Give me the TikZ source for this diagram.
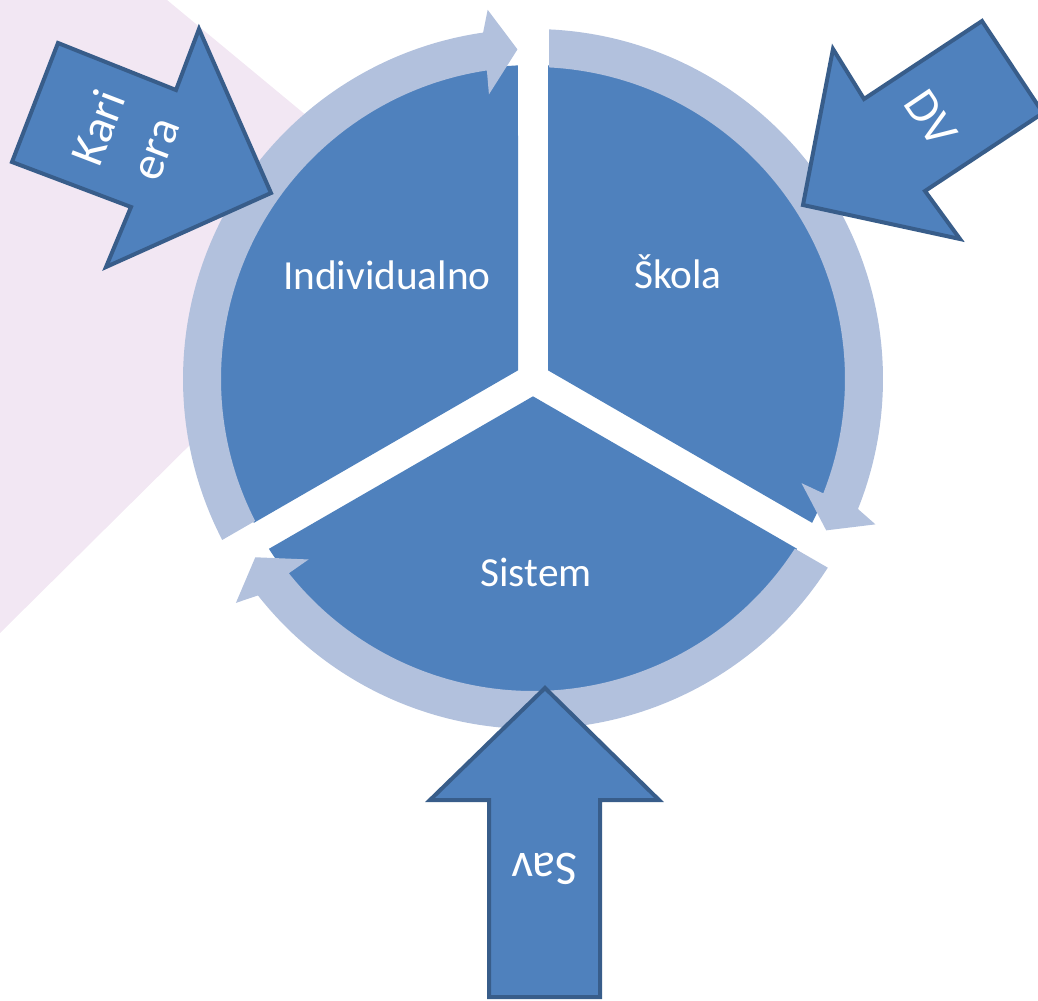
\documentclass[tikz,border=0pt]{standalone}
\usepackage{fontspec}
\setmainfont{Carlito}

\tikzset{every picture/.style={line width=0.75pt}}
\tikzset{
  bgfill/.style={draw=none, fill={rgb, 255:red, 242; green, 231; blue, 243}},
  piefill/.style={draw=none, fill={rgb, 255:red, 79; green, 129; blue, 189}},
  ringfill/.style={draw=none, fill={rgb, 255:red, 178; green, 193; blue, 221}},
  blockarrow/.style={draw={rgb, 255:red, 56; green, 93; blue, 138}, line width=3pt, line join=miter,
    fill={rgb, 255:red, 79; green, 129; blue, 189}},
  sectortext/.style={text=white, inner sep=0.75pt, font=\fontsize{31}{37}\selectfont},
  arrowtext/.style={text=white, inner sep=0.75pt, align=center, font=\fontsize{36}{45}\selectfont}
}

\begin{document}
\begin{tikzpicture}[x=0.75pt,y=0.75pt,yscale=-1,xscale=1]
\useasboundingbox (0,0) rectangle (1038,1000);
\clip (0,0) rectangle (1038,1000);

%Shape: Triangle [background]
\fill [bgfill] (0,0) -- (167,0) -- (424,213) -- (0,633) -- cycle;

%Shape: Pie Sector [Skola]
\fill [piefill, shift={(533,379)}, rotate=0] (-30:17.32) -- (-87.26:314) arc [start angle=-87.26, end angle=27.26, radius=314] -- cycle;
%Shape: Pie Sector [Sistem]
\fill [piefill, shift={(533,379)}, rotate=120] (-30:17.32) -- (-87.26:314) arc [start angle=-87.26, end angle=27.26, radius=314] -- cycle;
%Shape: Pie Sector [Individualno]
\fill [piefill, shift={(533,379)}, rotate=240] (-30:17.32) -- (-87.26:314) arc [start angle=-87.26, end angle=27.26, radius=314] -- cycle;

%Shape: Circular Arrow [right]
\fill [ringfill, shift={(533,379)}, rotate=0] (-87.38:350) arc [start angle=-87.38, end angle=21.8, radius=350] -- (23:372) -- (27.3:330) -- (21.2:288) -- (21.5:312) arc [start angle=21.5, end angle=-87.06, radius=312] -- cycle;
%Shape: Circular Arrow [bottom]
\fill [ringfill, shift={(533,379)}, rotate=120] (-87.38:350) arc [start angle=-87.38, end angle=21.8, radius=350] -- (23:372) -- (27.3:330) -- (21.2:288) -- (21.5:312) arc [start angle=21.5, end angle=-87.06, radius=312] -- cycle;
%Shape: Circular Arrow [left]
\fill [ringfill, shift={(533,379)}, rotate=240] (-87.38:350) arc [start angle=-87.38, end angle=21.8, radius=350] -- (23:372) -- (27.3:330) -- (21.2:288) -- (21.5:312) arc [start angle=21.5, end angle=-87.06, radius=312] -- cycle;

%Shape: Right Arrow [Karijera]
\draw [blockarrow] (58,43) -- (176,90) -- (199,29) -- (271,193) -- (106,267) -- (131,207) -- (12,162) -- cycle;
%Shape: Right Arrow [DV]
\draw [blockarrow] (982,21) -- (864,99) -- (833,49) -- (803,205) -- (960,239) -- (925,191) -- (1043,113) -- cycle;
%Shape: Right Arrow [Sav]
\draw [blockarrow] (545,688) -- (659,800) -- (600,800) -- (600,997) -- (489,997) -- (489,800) -- (430,800) -- cycle;

% Text Node
\node [sectortext] (individualno) at (387,275) {Individualno};
% Text Node
\node [sectortext] (skola) at (678,272) {Škola};
% Text Node
\node [sectortext] (sistem) at (536,572) {Sistem};
% Text Node
\node [arrowtext, rotate=69] (karijera) at (126,138) {Kari\\era};
% Text Node
\node [arrowtext, rotate=-56] (dv) at (931,118) {DV};
% Text Node
\node [arrowtext, rotate=180] (sav) at (545,869) {Sav};

\end{tikzpicture}
\end{document}
